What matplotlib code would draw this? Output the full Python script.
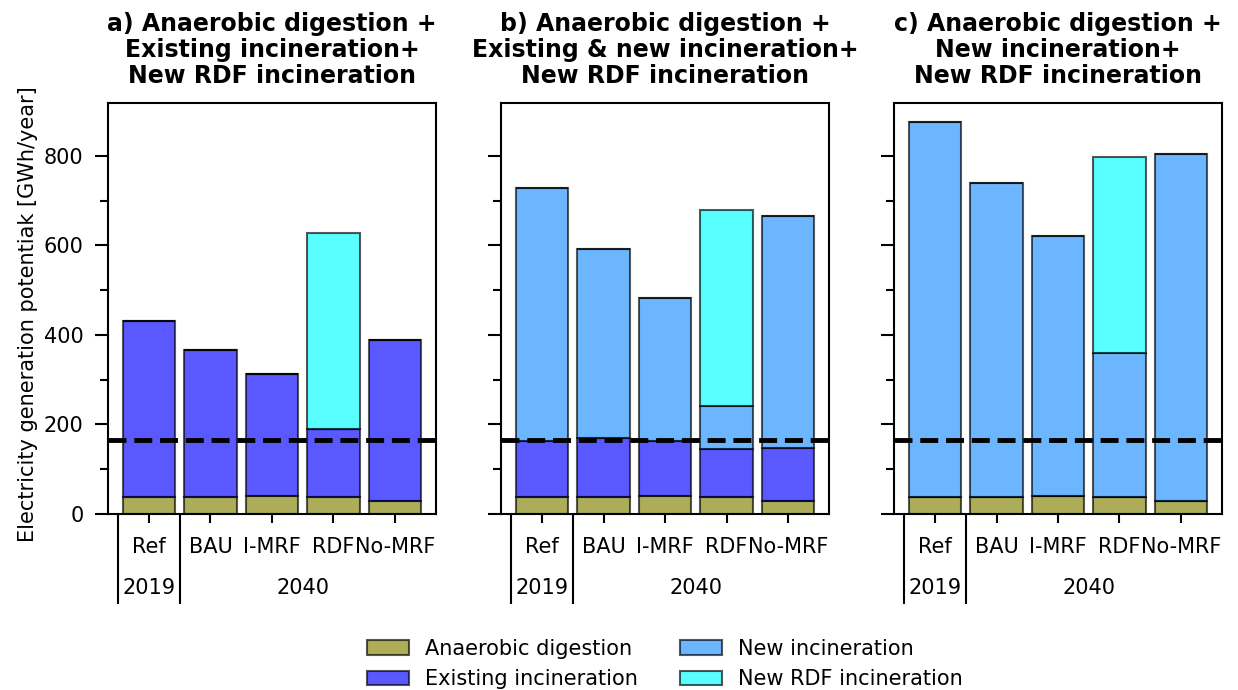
import matplotlib
matplotlib.use("Agg")
import matplotlib.pyplot as plt
import numpy as np

SCENARIOS = ["Ref", "BAU", "I-MRF", "RDF", "No-MRF"]
YEARS = ["2019", "2040"]
SERIES = ["Anaerobic digestion", "Existing incineration", "New incineration", "New RDF incineration"]
COLORS = ["olive", "blue", "dodgerblue", "cyan"]
BASELINE = 166  # 破線の値 [GWh/year]

TITLES = [
    "a) Anaerobic digestion +\nExisting incineration+\nNew RDF incineration",
    "b) Anaerobic digestion +\nExisting & new incineration+\nNew RDF incineration",
    "c) Anaerobic digestion +\nNew incineration+\nNew RDF incineration",
]

# a) 既存焼却 + 新 RDF
A_AD = [37, 38, 41, 39, 28]
A_EXISTING = [395, 328, 272, 150, 360]
A_NEW = [0, 0, 0, 0, 0]
A_RDF = [0, 0, 0, 438, 0]

# b) 既存 & 新焼却 + 新 RDF
B_AD = [37, 37, 41, 39, 28]
B_EXISTING = [127, 132, 122, 106, 120]
B_NEW = [565, 422, 320, 96, 517]
B_RDF = [0, 0, 0, 439, 0]

# c) 新焼却 + 新 RDF
C_AD = [38, 38, 41, 39, 28]
C_EXISTING = [0, 0, 0, 0, 0]
C_NEW = [837, 701, 580, 320, 775]
C_RDF = [0, 0, 0, 439, 0]

PANELS = [
    (A_AD, A_EXISTING, A_NEW, A_RDF),
    (B_AD, B_EXISTING, B_NEW, B_RDF),
    (C_AD, C_EXISTING, C_NEW, C_RDF),
]

FS = 15

fig = plt.figure(figsize=(12.38, 6.9), dpi=100)
lefts = [0.0872, 0.4047, 0.7221]
axes = []
for left in lefts:
    ax = fig.add_axes([left, 0.2551, 0.265, 0.5961], sharey=axes[0] if axes else None)
    axes.append(ax)

x = np.arange(len(SCENARIOS))
handles = []
ymax = 0
for ax, title, panel in zip(axes, TITLES, PANELS):
    bottom = np.zeros(len(SCENARIOS))
    hs = []
    for vals, color, label in zip(panel, COLORS, SERIES):
        b = ax.bar(x, vals, width=0.85, bottom=bottom, color=color, alpha=0.65,
                   edgecolor="black", linewidth=1.5, label=label)
        hs.append(b)
        bottom = bottom + np.array(vals)
    handles = hs
    ymax = max(ymax, bottom.max())
    ax.axhline(BASELINE, color="black", linestyle="--", linewidth=3.5)
    ax.set_title(title, fontsize=17, fontweight="bold", linespacing=1.1, pad=14)
    ax.set_xticks(x, SCENARIOS)
    ax.tick_params(axis="x", length=6.5, width=1.5, pad=10, labelsize=FS)
    ax.tick_params(axis="y", which="major", length=9.5, width=1.5, pad=8, labelsize=FS)
    ax.tick_params(axis="y", which="minor", length=6, width=1.5)
    ax.set_yticks(np.arange(0, 900, 200))
    ax.set_yticks(np.arange(100, 900, 200), minor=True)
    for s in ax.spines.values():
        s.set_linewidth(1.5)

    # 年の区切り (2019 | 2040)
    sec = ax.secondary_xaxis("bottom")
    sec.set_xticks([x[0] - 0.5, x[0] + 0.5], ["", ""])
    sec.set_xticks([x[0], np.mean(x[1:])], YEARS, minor=True)
    sec.tick_params(axis="x", which="major", length=65, width=1.5)
    sec.tick_params(axis="x", which="minor", length=0, pad=46, labelsize=FS)
    sec.spines["bottom"].set_visible(False)

axes[0].set_ylim(0, ymax * 1.05)
for ax in axes[1:]:
    ax.tick_params(axis="y", labelleft=False)
axes[0].set_ylabel("Electricity generation potentiak [GWh/year]", fontsize=FS, y=0.485)

fig.legend(handles, SERIES, loc="upper center", bbox_to_anchor=(665 / 1238, 1 - 620 / 690),
           ncol=2, frameon=False, fontsize=FS)

fig.savefig("out.png", dpi=100)
